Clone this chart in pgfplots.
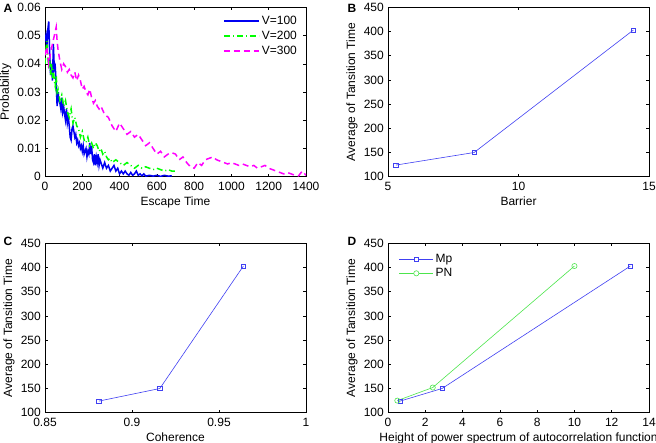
\documentclass[border=0pt]{standalone}
\usepackage{fontspec}
\setmainfont{Liberation Sans}
\usepackage{pgfplots}
\pgfplotsset{compat=1.18}
\definecolor{mblue}{rgb}{0,0,0.95}
\definecolor{mgreen}{rgb}{0,1,0}
\definecolor{mmag}{rgb}{1,0,1}
\definecolor{lblue}{rgb}{0.25,0.25,0.95}
\definecolor{lgreen}{rgb}{0.3,0.9,0.3}
\begin{document}
\fontsize{12bp}{14bp}\selectfont
\begin{tikzpicture}
\path[use as bounding box] (0bp,0bp) rectangle (656bp,-443bp);
\pgfplotsset{
  every axis/.append style={
    scale only axis, width=261bp, height=169.4bp,
    /pgf/number format/assume math mode=true,
    /pgf/number format/1000 sep={},
    scaled ticks=false,
    tick align=inside, tick pos=both,
    major tick length=3bp,
    axis line style={line width=0.5bp},
    every tick/.style={line width=0.5bp, black},
    font=\fontsize{12bp}{14bp}\selectfont,
    anchor=north west,
    legend style={draw=none, fill=none, font=\fontsize{12bp}{14bp}\selectfont},
    ylabel style={yshift=-2bp},
    xlabel style={yshift=2bp},
    xticklabel style={yshift=-1.5bp},
  }
}
% ---------------- A ----------------
\begin{axis}[at={(45bp,-7.3bp)},
  xmin=0, xmax=1400, ymin=0, ymax=0.06,
  xtick={0,200,400,600,800,1000,1200,1400},
  ytick={0,0.01,0.02,0.03,0.04,0.05,0.06},
  yticklabel style={/pgf/number format/fixed, /pgf/number format/precision=2},
  xlabel={Escape Time}, ylabel={Probability},
  legend style={at={(0.985,0.975)}, anchor=north east, row sep=1bp},
  legend cell align=left,
  legend image code/.code={\draw[#1, line width=1.5bp] (0bp,0bp) -- (35bp,0bp);},
]
\addplot[mblue, line width=1.5bp] coordinates {
(0,0.048)(5,0.050)(10,0.046)(15,0.052)(20,0.055)(25,0.044)(30,0.036)(35,0.040)(40,0.034)(45,0.047)
(50,0.038)(55,0.039)(60,0.033)(65,0.025)(70,0.030)(75,0.027)(80,0.026)(85,0.024)(90,0.028)(95,0.023)
(100,0.025)(105,0.022)(110,0.020)(115,0.024)(120,0.019)(125,0.021)(130,0.018)(135,0.014)(140,0.013)(145,0.017)
(150,0.018)(155,0.016)(160,0.014)(165,0.015)(170,0.012)(175,0.013)(180,0.011)(185,0.012)(190,0.010)(195,0.011)
(200,0.009)(205,0.011)(210,0.008)(215,0.009)(220,0.010)(225,0.007)(230,0.009)(235,0.008)(240,0.012)(245,0.008)
(250,0.011)(255,0.006)(260,0.005)(265,0.008)(270,0.004)(275,0.007)(280,0.005)(285,0.008)(290,0.004)(295,0.006)
(300,0.005)(310,0.003)(320,0.005)(330,0.003)(340,0.004)(350,0.002)(360,0.003)(370,0.004)(380,0.002)(390,0.003)
(400,0.001)(410,0.002)(420,0.001)(430,0.002)(440,0.001)(450,0.0005)(460,0.0015)(470,0.0005)(480,0.001)(490,0.002)
(500,0.0005)(510,0.001)(520,0.0003)(530,0.001)(540,0.0002)(560,0.0005)(580,0.0002)(600,0.0005)(620,0.0001)(640,0.0005)
(660,0.0002)(680,0.0003)};
\addlegendentry{V=100}
\addplot[mgreen, line width=1.5bp, dash pattern=on 6bp off 3bp on 1bp off 3bp] coordinates {
(0,0.040)(5,0.045)(10,0.048)(15,0.043)(20,0.038)(25,0.042)(30,0.036)(35,0.040)(40,0.035)(45,0.038)
(50,0.034)(55,0.032)(60,0.036)(65,0.030)(70,0.031)(80,0.027)(90,0.029)(100,0.025)(110,0.027)(120,0.023)
(130,0.021)(140,0.024)(150,0.019)(160,0.021)(170,0.018)(180,0.017)(190,0.014)(200,0.016)(210,0.013)(220,0.012)
(230,0.014)(240,0.011)(250,0.012)(260,0.010)(270,0.012)(280,0.011)(290,0.009)(300,0.010)(310,0.008)(320,0.009)
(330,0.007)(340,0.006)(350,0.0065)(360,0.005)(380,0.006)(400,0.005)(420,0.004)(440,0.005)(460,0.004)(480,0.003)
(500,0.004)(520,0.003)(540,0.0035)(560,0.003)(580,0.0025)(600,0.003)(620,0.0025)(640,0.002)(660,0.0025)(680,0.002)
(700,0.002)};
\addlegendentry{V=200}
\addplot[mmag, line width=1.5bp, dash pattern=on 6bp off 4bp] coordinates {
(0,0.043)(10,0.046)(20,0.040)(30,0.044)(40,0.047)(50,0.050)(60,0.053)(65,0.048)(70,0.045)(80,0.041)
(90,0.038)(100,0.040)(110,0.039)(120,0.037)(130,0.038)(140,0.036)(150,0.035)(160,0.037)(170,0.034)(180,0.036)
(190,0.034)(200,0.031)(210,0.032)(220,0.030)(230,0.029)(240,0.031)(250,0.028)(260,0.026)(270,0.027)(280,0.025)
(290,0.024)(300,0.025)(320,0.022)(340,0.021)(360,0.018)(380,0.016)(400,0.019)(420,0.017)(440,0.015)(460,0.016)
(480,0.014)(500,0.015)(520,0.013)(540,0.011)(560,0.012)(580,0.010)(600,0.008)(620,0.009)(640,0.007)(660,0.008)
(680,0.0085)(700,0.008)(720,0.006)(740,0.007)(760,0.005)(780,0.0035)(800,0.003)(820,0.005)(840,0.004)(860,0.006)
(880,0.0065)(900,0.007)(920,0.006)(940,0.0055)(960,0.005)(980,0.0045)(1000,0.005)(1020,0.0045)(1040,0.004)(1060,0.0045)
(1080,0.004)(1100,0.0035)(1120,0.004)(1140,0.003)(1160,0.0035)(1180,0.004)(1200,0.003)(1220,0.0025)(1240,0.002)(1260,0.0015)
(1280,0.001)(1300,0.0015)(1320,0.001)(1340,0.0005)(1360,0.0003)(1380,0.002)(1400,0.0005)};
\addlegendentry{V=300}
\end{axis}
% ---------------- B ----------------
\begin{axis}[at={(388bp,-7.3bp)},
  xmin=5, xmax=15, ymin=100, ymax=450,
  xtick={5,10,15}, ytick={100,150,200,250,300,350,400,450},
  xlabel={Barrier}, ylabel={Average of Tansition Time},
]
\addplot[lblue, line width=0.6bp, mark=square, mark size=2.2bp, mark options={line width=0.6bp}] coordinates {
(5.3,124)(8.3,150)(14.4,403)};
\end{axis}
% ---------------- C ----------------
\begin{axis}[at={(45bp,-243.3bp)},
  xmin=0.85, xmax=1, ymin=100, ymax=450,
  xtick={0.85,0.9,0.95,1}, ytick={100,150,200,250,300,350,400,450},
  xticklabel style={/pgf/number format/fixed, /pgf/number format/precision=2},
  xlabel={Coherence}, ylabel={Average of Tansition Time},
]
\addplot[lblue, line width=0.6bp, mark=square, mark size=2.2bp, mark options={line width=0.6bp}] coordinates {
(0.881,124)(0.916,150)(0.964,403)};
\end{axis}
% ---------------- D ----------------
\begin{axis}[at={(388bp,-243.3bp)},
  xmin=0, xmax=14, ymin=100, ymax=450,
  xtick={0,2,4,6,8,10,12,14}, ytick={100,150,200,250,300,350,400,450},
  xlabel={Height of power spectrum of autocorrelation function}, ylabel={Average of Tansition Time},
  legend style={at={(0.03,0.96)}, anchor=north west, row sep=0bp},
  legend cell align=left,
]
\addplot[lblue, line width=0.6bp, mark=square, mark size=2.2bp, mark options={lblue, line width=0.6bp},
  legend image code/.code={\draw[lblue, line width=0.6bp] (0bp,0bp) -- (34bp,0bp);
    \draw[lblue, line width=0.6bp, fill=white] (14.8bp,-2.2bp) rectangle (19.2bp,2.2bp);}] coordinates {
(0.65,124)(2.9,150)(13,403)};
\addlegendentry{Mp}
\addplot[lgreen, line width=0.6bp, mark=o, mark size=2.6bp, mark options={lgreen, line width=0.6bp},
  legend image code/.code={\draw[lgreen, line width=0.6bp] (0bp,0bp) -- (34bp,0bp);
    \draw[lgreen, line width=0.6bp, fill=white] (17bp,0bp) circle (2.6bp);}] coordinates {
(0.5,125)(2.4,152)(10,403)};
\addlegendentry{PN}
\end{axis}
% panel letters
\node[font=\bfseries\fontsize{12bp}{13bp}\selectfont] at (8bp,-8bp) {A};
\node[font=\bfseries\fontsize{12bp}{13bp}\selectfont] at (352bp,-8bp) {B};
\node[font=\bfseries\fontsize{12bp}{13bp}\selectfont] at (8bp,-241bp) {C};
\node[font=\bfseries\fontsize{12bp}{13bp}\selectfont] at (352bp,-241bp) {D};
\end{tikzpicture}
\end{document}
